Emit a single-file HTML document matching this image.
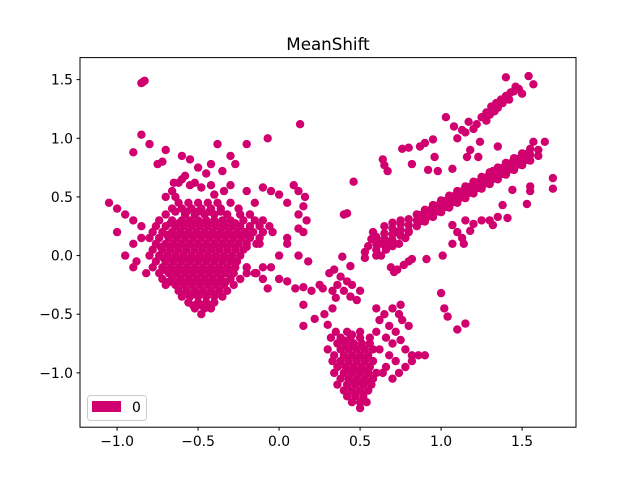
<!DOCTYPE html>
<html><head><meta charset="utf-8"><style>
body{margin:0;background:#fff}
svg text{font-family:"DejaVu Sans","Liberation Sans",sans-serif;fill:#000}
</style></head><body>
<svg id="chart" width="640" height="480" viewBox="0 0 640 480" xmlns="http://www.w3.org/2000/svg">
<rect width="640" height="480" fill="#fff"/>
<text x="328" y="50" font-size="16.7" text-anchor="middle">MeanShift</text>
<g id="points"></g>
<g id="axes"></g>
<rect x="80" y="57.6" width="496" height="369.6" fill="none" stroke="#000" stroke-width="1"/>
<g>
<rect x="87.5" y="395.5" width="59" height="25" rx="3" fill="#fff" fill-opacity="0.8" stroke="#ccc"/>
<rect x="92" y="401" width="29" height="11" fill="#d1006f"/>
<text x="132" y="412" font-size="13.9">0</text>
</g>
</svg>
<script>
const xTicks=[-1.0,-0.5,0.0,0.5,1.0,1.5];
const yTicks=[-1.0,-0.5,0.0,0.5,1.0,1.5];
const clusterLabels=[0];
const points=[
[-0.84,1.48],[-0.85,1.47],[-0.83,1.49],[-1.05,0.45],[-0.9,0.88],[-0.85,1.03],[-0.8,0.95],[-0.75,0.78],[-0.7,0.9],[-0.72,0.8],[-0.6,0.85],[-0.55,0.82],[-0.5,0.75],[-0.42,0.78],[-0.38,0.95],[-0.3,0.85],[-0.27,0.78],[-0.2,0.95],[-0.07,1.0],[0.13,1.12],[-0.35,0.72],[-0.45,0.7],[-0.6,0.65],[-0.65,0.62],[-0.55,0.6],[-0.3,0.6],[-0.2,0.55],[-0.1,0.58],[-0.15,0.45],[-0.05,0.55],[0,0.52],[0.05,0.45],[0.09,0.6],[0.12,0.55],[0.16,0.5],[0.15,0.42],[0.12,0.35],[0.17,0.3],[0.12,0.23],[0.05,0.15],[-1.0,0.4],[-0.95,0.35],[-0.9,0.3],[-0.85,0.25],[-1.0,0.2],[-0.9,0.1],[-0.95,0],[-0.88,-0.05],[-0.82,-0.15],[-0.85,0.15],[-0.9,-0.1],
[-0.62,0.62],[-0.58,0.68],[-0.52,0.62],[-0.48,0.58],[-0.42,0.6],[-0.66,0.55],[-0.7,0.5],[-0.64,0.5],[-0.4,0.52],[-0.34,0.55],
[-0.2,-0.1],[-0.15,-0.15],[-0.1,-0.2],[-0.05,-0.1],[0,-0.2],[0.05,-0.22],[0.1,-0.28],[0.15,-0.27],[0.2,-0.3],[0.25,-0.25],[0.27,-0.28],[-0.1,-0.1],[-0.07,-0.28],[0.0,0.0],[0.05,0.1],[0.12,0.0],[0.18,-0.05],[0.15,0.2],[-0.12,0.1],[0.15,-0.42],[0.22,-0.54],[0.15,-0.6],[0.3,-0.59],[0.28,-0.5],[0.33,-0.45],[0.4,0.35],[0.42,0.36],[0.46,0.63],
[0.31,-0.15],[0.34,-0.12],[0.38,-0.18],[0.42,-0.22],[0.45,-0.25],[0.36,-0.25],[0.4,-0.3],[0.44,-0.35],[0.48,-0.38],[0.33,-0.3],[0.39,-0.01],[0.44,-0.09],[0.35,-0.36],[0.5,-0.3],
[-0.62,0.45],[-0.56,0.45],[-0.5,0.45],[-0.44,0.45],[-0.38,0.45],[-0.3,0.45],
[-0.66,0.4],[-0.6,0.4],[-0.54,0.4],[-0.48,0.4],[-0.42,0.4],[-0.36,0.4],[-0.25,0.4],
[-0.7,0.35],[-0.58,0.35],[-0.52,0.35],[-0.46,0.35],[-0.4,0.35],[-0.32,0.35],[-0.24,0.35],[-0.18,0.35],
[-0.74,0.3],[-0.66,0.3],[-0.6,0.3],[-0.55,0.3],[-0.5,0.3],[-0.45,0.3],[-0.4,0.3],[-0.35,0.3],[-0.3,0.3],[-0.22,0.3],[-0.15,0.3],[-0.1,0.3],
[-0.76,0.25],[-0.7,0.25],[-0.64,0.25],[-0.59,0.25],[-0.54,0.25],[-0.49,0.25],[-0.44,0.25],[-0.39,0.25],[-0.34,0.25],[-0.29,0.25],[-0.24,0.25],[-0.18,0.25],[-0.12,0.25],[-0.06,0.25],
[-0.78,0.2],[-0.72,0.2],[-0.66,0.2],[-0.61,0.2],[-0.56,0.2],[-0.51,0.2],[-0.46,0.2],[-0.41,0.2],[-0.36,0.2],[-0.31,0.2],[-0.26,0.2],[-0.21,0.2],[-0.16,0.2],[-0.1,0.2],[-0.04,0.2],
[-0.8,0.15],[-0.74,0.15],[-0.68,0.15],[-0.63,0.15],[-0.58,0.15],[-0.53,0.15],[-0.48,0.15],[-0.43,0.15],[-0.38,0.15],[-0.33,0.15],[-0.28,0.15],[-0.23,0.15],[-0.18,0.15],[-0.12,0.15],
[-0.76,0.1],[-0.7,0.1],[-0.65,0.1],[-0.6,0.1],[-0.55,0.1],[-0.5,0.1],[-0.45,0.1],[-0.4,0.1],[-0.35,0.1],[-0.3,0.1],[-0.25,0.1],[-0.2,0.1],[-0.14,0.1],
[-0.78,0.05],[-0.72,0.05],[-0.67,0.05],[-0.62,0.05],[-0.57,0.05],[-0.52,0.05],[-0.47,0.05],[-0.42,0.05],[-0.37,0.05],[-0.32,0.05],[-0.27,0.05],[-0.22,0.05],
[-0.8,0],[-0.74,0],[-0.69,0],[-0.64,0],[-0.59,0],[-0.54,0],[-0.49,0],[-0.44,0],[-0.39,0],[-0.34,0],[-0.29,0],[-0.24,0],
[-0.76,-0.05],[-0.7,-0.05],[-0.65,-0.05],[-0.6,-0.05],[-0.55,-0.05],[-0.5,-0.05],[-0.45,-0.05],[-0.4,-0.05],[-0.35,-0.05],[-0.3,-0.05],[-0.26,-0.05],
[-0.78,-0.1],[-0.72,-0.1],[-0.67,-0.1],[-0.62,-0.1],[-0.57,-0.1],[-0.52,-0.1],[-0.47,-0.1],[-0.42,-0.1],[-0.37,-0.1],[-0.32,-0.1],[-0.27,-0.1],[-0.2,-0.1],
[-0.74,-0.15],[-0.68,-0.15],[-0.63,-0.15],[-0.58,-0.15],[-0.53,-0.15],[-0.48,-0.15],[-0.43,-0.15],[-0.38,-0.15],[-0.33,-0.15],[-0.28,-0.15],[-0.2,-0.15],[-0.14,-0.15],
[-0.72,-0.2],[-0.66,-0.2],[-0.61,-0.2],[-0.56,-0.2],[-0.51,-0.2],[-0.46,-0.2],[-0.41,-0.2],[-0.36,-0.2],[-0.3,-0.2],[-0.24,-0.2],
[-0.7,-0.25],[-0.64,-0.25],[-0.59,-0.25],[-0.54,-0.25],[-0.49,-0.25],[-0.44,-0.25],[-0.39,-0.25],[-0.34,-0.25],[-0.28,-0.25],
[-0.62,-0.3],[-0.57,-0.3],[-0.52,-0.3],[-0.47,-0.3],[-0.42,-0.3],[-0.37,-0.3],[-0.32,-0.3],
[-0.6,-0.35],[-0.55,-0.35],[-0.5,-0.35],[-0.45,-0.35],[-0.4,-0.35],[-0.35,-0.35],
[-0.56,-0.4],[-0.5,-0.4],[-0.45,-0.4],[-0.4,-0.4],[-0.52,-0.45],[-0.46,-0.45],[-0.42,-0.45],[-0.48,-0.5],
[-0.67,0.275],[-0.62,0.275],[-0.57,0.275],[-0.52,0.275],[-0.47,0.275],[-0.42,0.275],[-0.37,0.275],[-0.32,0.275],[-0.27,0.275],
[-0.69,0.175],[-0.64,0.175],[-0.59,0.175],[-0.54,0.175],[-0.49,0.175],[-0.44,0.175],[-0.39,0.175],[-0.34,0.175],[-0.29,0.175],[-0.24,0.175],[-0.19,0.175],
[-0.73,0.075],[-0.67,0.075],[-0.62,0.075],[-0.57,0.075],[-0.52,0.075],[-0.47,0.075],[-0.42,0.075],[-0.37,0.075],[-0.32,0.075],[-0.27,0.075],[-0.2,0.075],
[-0.71,-0.025],[-0.66,-0.025],[-0.61,-0.025],[-0.56,-0.025],[-0.51,-0.025],[-0.46,-0.025],[-0.41,-0.025],[-0.36,-0.025],[-0.31,-0.025],
[-0.7,-0.125],[-0.65,-0.125],[-0.6,-0.125],[-0.55,-0.125],[-0.5,-0.125],[-0.45,-0.125],[-0.4,-0.125],[-0.35,-0.125],[-0.3,-0.125],
[-0.68,-0.225],[-0.63,-0.225],[-0.58,-0.225],[-0.53,-0.225],[-0.48,-0.225],[-0.43,-0.225],[-0.38,-0.225],[-0.33,-0.225],
[-0.6,-0.325],[-0.55,-0.325],[-0.5,-0.325],[-0.45,-0.325],[-0.4,-0.325],[-0.53,-0.425],[-0.48,-0.425],[-0.43,-0.425],
[-0.64,0.375],[-0.57,0.375],[-0.5,0.375],[-0.43,0.375],[-0.36,0.375],
[0.35,-0.65],[0.42,-0.65],[0.5,-0.65],
[0.32,-0.7],[0.38,-0.7],[0.44,-0.7],[0.5,-0.7],[0.56,-0.7],
[0.36,-0.75],[0.41,-0.75],[0.46,-0.75],[0.51,-0.75],[0.56,-0.75],
[0.3,-0.8],[0.38,-0.8],[0.43,-0.8],[0.48,-0.8],[0.53,-0.8],[0.58,-0.8],
[0.34,-0.85],[0.4,-0.85],[0.45,-0.85],[0.5,-0.85],[0.55,-0.85],
[0.33,-0.9],[0.38,-0.9],[0.43,-0.9],[0.48,-0.9],[0.53,-0.9],[0.58,-0.9],
[0.36,-0.95],[0.41,-0.95],[0.46,-0.95],[0.51,-0.95],[0.56,-0.95],
[0.34,-1.0],[0.4,-1.0],[0.45,-1.0],[0.5,-1.0],[0.55,-1.0],[0.6,-1.0],
[0.38,-1.05],[0.43,-1.05],[0.48,-1.05],[0.53,-1.05],[0.58,-1.05],
[0.36,-1.1],[0.42,-1.1],[0.47,-1.1],[0.52,-1.1],[0.57,-1.1],
[0.4,-1.15],[0.45,-1.15],[0.5,-1.15],[0.55,-1.15],
[0.42,-1.2],[0.47,-1.2],[0.52,-1.2],[0.45,-1.25],[0.5,-1.25],[0.54,-1.25],[0.5,-1.3],
[0.41,-0.775],[0.46,-0.775],[0.51,-0.775],[0.43,-0.875],[0.48,-0.875],[0.53,-0.875],[0.43,-0.975],[0.48,-0.975],[0.53,-0.975],[0.45,-1.075],[0.5,-1.075],[0.55,-1.075],[0.47,-1.175],[0.52,-1.175],[0.45,-0.675],[0.4,-0.725],
[0.6,-0.45],[0.65,-0.5],[0.62,-0.55],[0.7,-0.45],[0.75,-0.42],[0.68,-0.6],[0.72,-0.65],[0.66,-0.7],[0.7,-0.75],[0.75,-0.72],[0.62,-0.8],[0.68,-0.85],[0.72,-0.9],[0.66,-0.95],[0.78,-0.8],[0.82,-0.85],[0.86,-0.85],[0.74,-1.0],[0.7,-1.05],[0.78,-0.95],[0.82,-0.9],[0.6,-0.65],[0.64,-1.0],[0.76,-0.55],[0.74,-0.5],[0.8,-0.6],[0.9,-0.85],
[1.0,-0.32],[1.02,-0.45],[1.04,-0.52],[1.1,-0.63],[1.15,-0.58],
[0.64,0.82],[0.67,0.72],[0.65,0.77],[0.76,0.91],[0.87,0.93],[0.82,0.78],[0.95,0.99],[0.92,0.73],[0.98,0.72],[1.07,0.74],[0.96,0.84],[1.03,1.18],[1.08,1.1],[1.1,1.0],[1.13,1.07],[1.2,1.08],[1.16,0.84],[1.18,0.9],[1.24,0.97],[1.23,0.84],[1.35,0.93],[1.22,1.12],[1.25,1.18],[1.28,1.22],[1.31,1.27],[1.34,1.3],[1.37,1.33],[1.4,1.36],[1.43,1.39],[1.28,1.15],[1.33,1.23],[1.38,1.3],[1.4,1.52],[1.54,1.53],[1.57,1.46],[1.45,1.4],[1.48,1.42],[1.5,1.38],[1.17,1.14],[1.3,1.2],[1.35,1.26],[1.42,1.33],[1.46,1.44],[0.8,0.92],[0.9,0.96],[1.15,1.05],
[0.6,0.05],[0.6,0.1],[0.6,0.15],[0.65,0.09],[0.65,0.14],[0.65,0.19],[0.7,0.13],[0.7,0.18],[0.7,0.23],[0.75,0.17],[0.75,0.22],[0.75,0.27],[0.8,0.21],[0.8,0.26],[0.8,0.31],[0.85,0.25],[0.85,0.3],[0.85,0.35],[0.9,0.29],[0.9,0.34],[0.9,0.39],[0.95,0.33],[0.95,0.38],[0.95,0.43],[1.0,0.37],[1.0,0.42],[1.0,0.47],[1.05,0.41],[1.05,0.46],[1.05,0.51],[1.1,0.45],[1.1,0.5],[1.1,0.55],[1.15,0.49],[1.15,0.54],[1.15,0.59],[1.2,0.53],[1.2,0.58],[1.2,0.63],[1.25,0.57],[1.25,0.62],[1.25,0.67],[1.3,0.61],[1.3,0.66],[1.3,0.71],[1.35,0.65],[1.35,0.7],[1.35,0.75],[1.4,0.69],[1.4,0.74],[1.4,0.79],[1.45,0.73],[1.45,0.78],[1.45,0.83],[1.5,0.77],[1.5,0.82],[1.5,0.87],[1.55,0.81],[1.55,0.86],[1.55,0.91],[1.6,0.85],[1.6,0.9],[1.57,0.97],[1.64,0.97],[1.69,0.66],[1.69,0.57],[1.55,0.59],[1.55,0.55],[1.53,0.44],[1.44,0.56],[1.41,0.32],[1.32,0.26],[1.38,0.43],[1.32,0.72],
[0.975,0.375],[0.975,0.425],[1.025,0.415],[1.025,0.465],[1.075,0.455],[1.075,0.505],[1.125,0.495],[1.125,0.545],[1.175,0.535],[1.175,0.585],[1.225,0.575],[1.225,0.625],[1.275,0.615],[1.275,0.665],[1.325,0.655],[1.325,0.705],[1.375,0.695],[1.375,0.745],[1.425,0.735],[1.425,0.785],[1.475,0.775],[1.475,0.825],[1.525,0.815],[1.525,0.865],[0.875,0.295],[0.875,0.345],[0.925,0.335],[0.925,0.385],
[1.1,0.2],[1.13,0.15],[1.18,0.21],[1.2,0.27],[1.25,0.3],[1.3,0.3],[1.35,0.33],[1.15,0.3],[1.07,0.26],[0.91,-0.03],[1.01,0.0],[1.07,0.1],[1.14,0.1],
[0.69,-0.1],[0.73,-0.12],[0.77,-0.08],[0.8,-0.05],[0.82,-0.03],[0.71,-0.14],[0.53,0.03],[0.53,-0.02],[0.6,0.16],
[0.58,0.2],[0.6,0.0],[0.63,0.0],[0.66,0.05],[0.7,0.08],[0.74,0.1],[0.78,0.15],[0.65,0.25],[0.7,0.28],[0.75,0.3],[0.8,0.2],[0.55,0.08],[0.57,0.14],[0.68,0.12],[0.72,0.2],[0.62,0.1]
];
const clusterOf=points.map(()=>clusterLabels[0]);
const X0=80,X1=576,Y0=427.2,Y1=57.6;
const xMin=-1.2288,xMax=1.8328,yMin=-1.4632,yMax=1.6877;
function sx(v){return X0+(v-xMin)/(xMax-xMin)*(X1-X0);}
function sy(v){return Y0-(v-yMin)/(yMax-yMin)*(Y0-Y1);}
const NS="http://www.w3.org/2000/svg";
const pg=document.getElementById('points');
points.forEach((p,i)=>{
  const c=document.createElementNS(NS,'circle');
  c.setAttribute('cx',sx(p[0]).toFixed(1));
  c.setAttribute('cy',sy(p[1]).toFixed(1));
  c.setAttribute('r','4.2');
  c.setAttribute('fill','#d1006f');
  
  
  pg.appendChild(c);
});
const ax=document.getElementById('axes');
function fmt(v){return (v<0?'\u2212':'')+Math.abs(v).toFixed(1);}
xTicks.forEach(t=>{
  const x=sx(t);
  const l=document.createElementNS(NS,'line');
  l.setAttribute('x1',x);l.setAttribute('x2',x);l.setAttribute('y1',Y0);l.setAttribute('y2',Y0+3.5);
  l.setAttribute('stroke','#000');
  
  
  ax.appendChild(l);
  const tx=document.createElementNS(NS,'text');
  tx.setAttribute('x',x);tx.setAttribute('y',Y0+19);
  tx.setAttribute('font-size','13.9');tx.setAttribute('text-anchor','middle');
  
  
  tx.textContent=fmt(t);
  ax.appendChild(tx);
});
yTicks.forEach(t=>{
  const y=sy(t);
  const l=document.createElementNS(NS,'line');
  l.setAttribute('x1',X0-3.5);l.setAttribute('x2',X0);l.setAttribute('y1',y);l.setAttribute('y2',y);
  l.setAttribute('stroke','#000');
  
  
  ax.appendChild(l);
  const tx=document.createElementNS(NS,'text');
  tx.setAttribute('x',X0-7);tx.setAttribute('y',y+5);
  tx.setAttribute('font-size','13.9');tx.setAttribute('text-anchor','end');
  
  
  tx.textContent=fmt(t);
  ax.appendChild(tx);
});
</script>
</body></html>
